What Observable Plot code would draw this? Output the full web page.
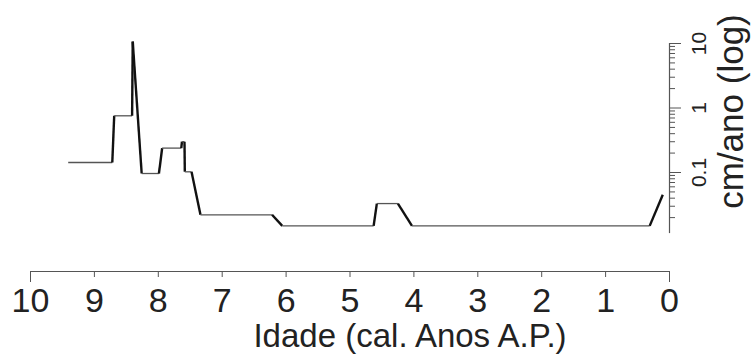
<!DOCTYPE html>
<html><head><meta charset="utf-8">
<script src="https://cdn.jsdelivr.net/npm/d3@7"></script>
<script src="https://cdn.jsdelivr.net/npm/@observablehq/plot@0.6"></script>
<style>html,body{margin:0;padding:0;background:#fff} svg{display:block}</style>
</head><body><div id="chart"></div>
<script>
// Age (cal. ka BP) and accumulation rate (cm/ano)
const ages  = [9.41, 8.72, 8.69, 8.41, 8.40, 8.26, 7.99, 7.94, 7.64, 7.63, 7.59, 7.585, 7.48, 7.34, 6.22, 6.06, 4.63, 4.58, 4.25, 4.03, 0.31, 0.105];
const rates = [0.143, 0.143, 0.757, 0.757, 10.7, 0.0965, 0.0965, 0.239, 0.239, 0.30, 0.30, 0.1025, 0.1025, 0.0221, 0.0221, 0.0149, 0.0149, 0.033, 0.033, 0.0149, 0.0149, 0.0451];
const xTicks = [10, 9, 8, 7, 6, 5, 4, 3, 2, 1, 0];
const xEndTicks = [10, 0];
const yMajor = [0.1, 1, 10];
const yMinor = [0.02,0.03,0.04,0.05,0.06,0.07,0.08,0.09,0.2,0.3,0.4,0.5,0.6,0.7,0.8,0.9,2,3,4,5,6,7,8,9];
const yDomain = [0.00292, 10];
const yAxisExtent = [0.0113, 10];
const xTitle = "Idade (cal. Anos A.P.)";
const yTitle = "cm/ano (log)";

const segs = [];
for (let i = 0; i < ages.length - 1; i++) {
  segs.push({x1: ages[i], y1: rates[i], x2: ages[i+1], y2: rates[i+1], flat: rates[i] === rates[i+1]});
}
const axisColor = "#555";
const chart = Plot.plot({
  width: 755, height: 360,
  marginLeft: 30, marginRight: 86, marginTop: 43, marginBottom: 89,
  style: {fontFamily: "'Liberation Sans', Arial, sans-serif", background: "#fff", color: "#222"},
  x: {domain: [10, 0]},
  y: {type: "log", domain: yDomain},
  marks: [
    Plot.ruleY([yDomain[0]], {stroke: axisColor, strokeWidth: 1.2}),
    Plot.axisX({ticks: xTicks, tickSize: 6, tickPadding: 10, fontSize: 34, label: null, stroke: axisColor, tickFormat: d => String(d), fill: "#222"}),
    Plot.axisX({ticks: xEndTicks, tickSize: 11, tickFormat: () => "", label: null, stroke: axisColor}),
    Plot.ruleX([0], {y1: yAxisExtent[0], y2: yAxisExtent[1], stroke: axisColor, strokeWidth: 1.2}),
    Plot.axisY({anchor: "right", ticks: yMajor, tickSize: 11, tickFormat: () => "", label: null, stroke: axisColor}),
    Plot.axisY({anchor: "right", ticks: yMinor, tickSize: 5, tickFormat: () => "", label: null, stroke: axisColor}),
    Plot.text(yMajor, {y: d => d, frameAnchor: "right", text: d => String(d), rotate: -90, dx: 36, textAnchor: "middle", lineAnchor: "bottom", fontSize: 21, fill: "#222"}),
    Plot.text([yTitle], {frameAnchor: "top-right", text: d => d, rotate: -90, dx: 73, dy: 68, textAnchor: "middle", lineAnchor: "bottom", fontSize: 35, fill: "#222"}),
    Plot.text([xTitle], {frameAnchor: "bottom", text: d => d, dx: 60, dy: 75, textAnchor: "middle", lineAnchor: "bottom", fontSize: 33, fill: "#222"}),
    Plot.link(segs, {x1: "x1", y1: "y1", x2: "x2", y2: "y2",
      stroke: d => d.flat ? "#555" : "#111",
      strokeWidth: d => d.flat ? 1.3 : 2.4})
  ]
});
document.getElementById("chart").append(chart);
</script>
</body></html>
